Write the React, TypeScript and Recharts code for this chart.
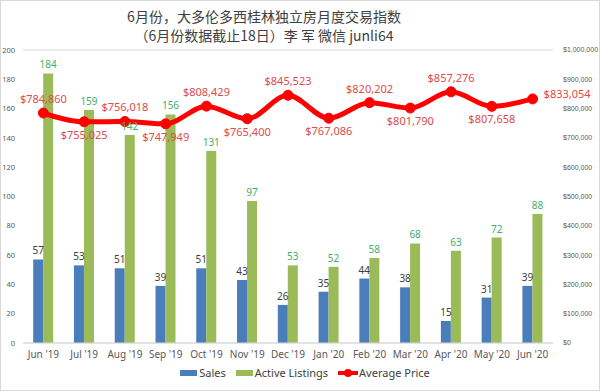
import React from "react";
import { ComposedChart, Bar, Line, XAxis, YAxis, CartesianGrid, Legend, LabelList } from "recharts";

const months = ["Jun '19", "Jul '19", "Aug '19", "Sep '19", "Oct '19", "Nov '19", "Dec '19", "Jan '20", "Feb '20", "Mar '20", "Apr '20", "May '20", "Jun '20"];
const sales = [57, 53, 51, 39, 51, 43, 26, 35, 44, 38, 15, 31, 39];
const activeListings = [184, 159, 142, 156, 131, 97, 53, 52, 58, 68, 63, 72, 88];
const averagePrice = [784860, 755025, 756018, 747949, 808429, 765400, 845523, 767086, 820202, 801790, 857276, 807658, 833054];
const leftTicks = [0, 20, 40, 60, 80, 100, 120, 140, 160, 180, 200];
const rightTicks = [0, 100000, 200000, 300000, 400000, 500000, 600000, 700000, 800000, 900000, 1000000];

const data = months.map((m, i) => ({
  month: m,
  sales: sales[i],
  active: activeListings[i],
  price: averagePrice[i],
}));

const FONT = "'Noto Sans', 'Liberation Sans', sans-serif";
const BLUE = "#4a7ebb";
const GREEN = "#9bbb59";
const RED = "#ff0000";

const money = (v: number) => "$" + v.toLocaleString("en-US");

// alternate price labels above / below, last one to the right
const PriceLabel = (props: any) => {
  const { x, y, index, value } = props;
  const last = index === averagePrice.length - 1;
  const above = index % 2 === 0;
  if (last) {
    return (
      <text x={x + 11} y={y - 4} fontSize={11} fill="#e04a4a" fontFamily={FONT} dominantBaseline="middle">
        {money(value)}
      </text>
    );
  }
  return (
    <text x={x} y={above ? y - 13 : y + 14} fontSize={11} fill="#e04a4a" fontFamily={FONT} textAnchor="middle" dominantBaseline="middle">
      {money(value)}
    </text>
  );
};

const LegendContent = () => (
  <div style={{ display: "flex", justifyContent: "center", alignItems: "center", gap: 10, fontFamily: FONT, fontSize: 11, color: "#404040", paddingLeft: 10 }}>
    <span style={{ display: "flex", alignItems: "center" }}>
      <span style={{ width: 17, height: 6, background: BLUE, display: "inline-block", marginRight: 2 }} />
      Sales
    </span>
    <span style={{ display: "flex", alignItems: "center" }}>
      <span style={{ width: 17, height: 6, background: GREEN, display: "inline-block", marginRight: 2 }} />
      Active Listings
    </span>
    <span style={{ display: "flex", alignItems: "center" }}>
      <svg width={20} height={10} style={{ marginRight: 1 }}>
        <line x1={0} y1={5} x2={20} y2={5} stroke={RED} strokeWidth={4} />
        <circle cx={10} cy={5} r={4} fill={RED} />
      </svg>
      Average Price
    </span>
  </div>
);

export default function App() {
  return (
    <div style={{ position: "fixed", top: 0, left: 0, width: 600, height: 391, background: "#fff", boxSizing: "border-box", border: "1px solid #d9d9d9" }}>
      <div style={{ position: "absolute", top: 6, left: 0, width: 526, textAlign: "center", fontFamily: "'Noto Sans CJK SC', sans-serif", fontSize: 14, lineHeight: "19px", color: "#404040" }}>
        6月份，大多伦多西桂林独立房月度交易指数
        <br />
        （6月份数据截止18日）李 军 微信 junli64
      </div>
      <ComposedChart
        width={598}
        height={389}
        data={data}
        margin={{ top: 49, right: 0, bottom: 3, left: 0 }}
        barGap={0}
        barCategoryGap="25%"
      >
        <CartesianGrid vertical={false} stroke="#d9d9d9" />
        <XAxis
          dataKey="month"
          tickLine={false}
          axisLine={{ stroke: "#d9d9d9" }}
          height={22}
          tick={{ fontSize: 10, fill: "#595959", fontFamily: FONT }}
          interval={0}
        />
        <YAxis
          yAxisId="left"
          domain={[0, 200]}
          ticks={leftTicks}
          width={22}
          axisLine={false}
          tickLine={false}
          tick={{ fontSize: 7.5, fill: "#595959", fontFamily: FONT }}
        />
        <YAxis
          yAxisId="right"
          orientation="right"
          domain={[0, 1000000]}
          ticks={rightTicks}
          width={46}
          axisLine={false}
          tickLine={false}
          tickFormatter={money}
          tick={{ fontSize: 7, fill: "#595959", fontFamily: "'Liberation Sans', sans-serif", textAnchor: "start", dx: 2 }}
        />
        <Legend verticalAlign="bottom" height={22} content={<LegendContent />} />
        <Bar yAxisId="left" dataKey="sales" name="Sales" fill={BLUE} isAnimationActive={false}>
          <LabelList dataKey="sales" position="top" offset={5} style={{ fontSize: 10, fill: "#404040", fontFamily: FONT }} />
        </Bar>
        <Bar yAxisId="left" dataKey="active" name="Active Listings" fill={GREEN} isAnimationActive={false}>
          <LabelList dataKey="active" position="top" offset={5} style={{ fontSize: 10, fill: "#3fae6f", fontFamily: FONT }} />
        </Bar>
        <Line
          yAxisId="right"
          dataKey="price"
          name="Average Price"
          type="monotone"
          stroke={RED}
          strokeWidth={5}
          dot={{ r: 5, fill: RED, stroke: RED, strokeWidth: 1 }}
          isAnimationActive={false}
        >
          <LabelList dataKey="price" content={<PriceLabel />} />
        </Line>
      </ComposedChart>
    </div>
  );
}
